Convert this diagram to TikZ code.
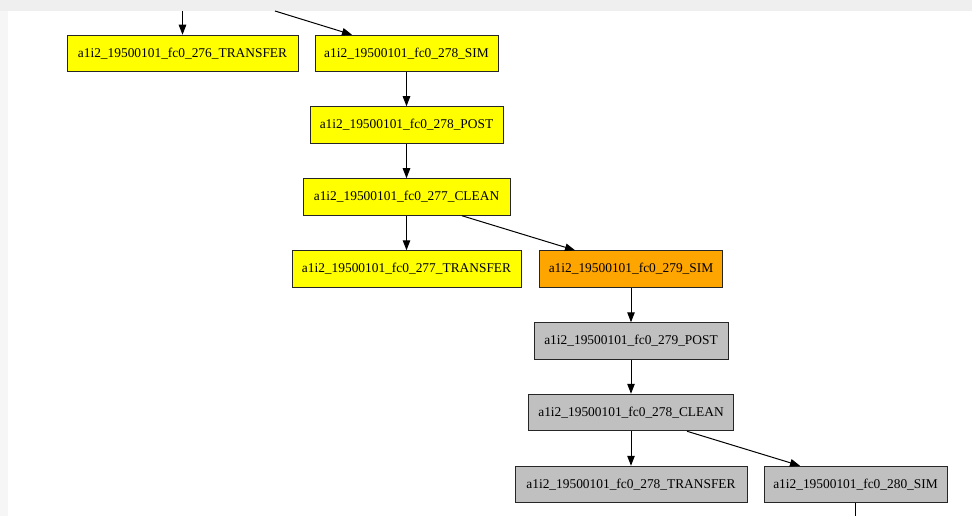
\documentclass[tikz,border=0pt]{standalone}
\usepackage{fontspec}
\setmainfont{Liberation Serif}
\usetikzlibrary{arrows.meta}
\definecolor{gvyellow}{HTML}{FFFF00}
\definecolor{gvorange}{HTML}{FFA500}
\definecolor{gvgray}{HTML}{C0C0C0}
\definecolor{bandgray}{HTML}{EFEFEF}
\definecolor{sidegray}{HTML}{F6F6F6}
\begin{document}
\begin{tikzpicture}[x=1pt,y=-1pt,
  job/.style={draw=black!85, line width=1pt, rectangle, inner sep=0pt,
    minimum height=36.5pt, font=\fontsize{13.4}{16}\selectfont, text=black},
  ydone/.style={job, fill=gvyellow},
  yrun/.style={job, fill=gvorange},
  ywait/.style={job, fill=gvgray},
  edge/.style={line width=1pt, draw=black, -{Triangle[length=10pt,width=7.5pt]}},
  plain/.style={line width=1pt, draw=black}]
\useasboundingbox (0,0) rectangle (972,516);
\fill[white] (0,0) rectangle (972,516);
\fill[sidegray] (0,0) rectangle (8,516);
\fill[bandgray] (0,0) rectangle (972,11);

\node[ydone, minimum width=231pt] (t276) at (182.5,53.5) {a1i2\_19500101\_fc0\_276\_TRANSFER};
\node[ydone, minimum width=183pt] (s278) at (406.5,53.5) {a1i2\_19500101\_fc0\_278\_SIM};
\node[ydone, minimum width=193pt] (p278) at (406.5,125) {a1i2\_19500101\_fc0\_278\_POST};
\node[ydone, minimum width=207pt] (c277) at (406.5,197) {a1i2\_19500101\_fc0\_277\_CLEAN};
\node[ydone, minimum width=229pt] (t277) at (406.5,269) {a1i2\_19500101\_fc0\_277\_TRANSFER};
\node[yrun, minimum width=183pt] (s279) at (631,269) {a1i2\_19500101\_fc0\_279\_SIM};
\node[ywait, minimum width=194pt] (p279) at (631,341) {a1i2\_19500101\_fc0\_279\_POST};
\node[ywait, minimum width=205pt] (c278) at (631,412.5) {a1i2\_19500101\_fc0\_278\_CLEAN};
\node[ywait, minimum width=232pt] (t278) at (631,484.5) {a1i2\_19500101\_fc0\_278\_TRANSFER};
\node[ywait, minimum width=183pt] (s280) at (855.5,484.5) {a1i2\_19500101\_fc0\_280\_SIM};

\coordinate (inA) at (182.5,11);
\coordinate (inB) at (275,11);
\coordinate (outC) at (855.5,516);

\draw[edge] (inA) -- (t276.north);
\draw[edge] (inB) -- ([xshift=-54.5pt]s278.north);
\draw[edge] (s278) -- (p278);
\draw[edge] (p278) -- (c277);
\draw[edge] (c277) -- (t277);
\draw[edge] ([xshift=55.5pt]c277.south) -- ([xshift=-56pt]s279.north);
\draw[edge] (s279) -- (p279);
\draw[edge] (p279) -- (c278);
\draw[edge] (c278) -- (t278);
\draw[edge] ([xshift=56pt]c278.south) -- ([xshift=-55.5pt]s280.north);
\draw[plain] (s280.south) -- (outC);
\end{tikzpicture}
\end{document}
